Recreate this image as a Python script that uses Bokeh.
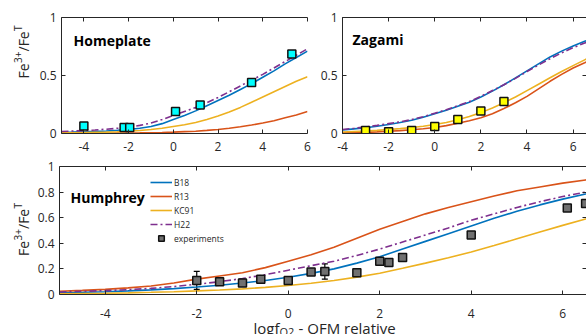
from math import pi
from bokeh.plotting import figure
from bokeh.models import (Range1d, FixedTicker, LinearAxis, Label, Legend,
                          LegendItem, Whisker, ColumnDataSource, TeeHead)
from bokeh.layouts import column, row
from bokeh.embed import file_html
from bokeh.resources import INLINE

# ---------------- data ----------------
x_tick_vals = [-4, -2, 0, 2, 4, 6]
y_ticks_top = [0, 0.5, 1]
y_tick_labels_top = ["0", "0.5", "1"]
y_ticks_bottom = [0, 0.2, 0.4, 0.6, 0.8, 1]
y_tick_labels_bottom = ["0", "0.2", "0.4", "0.6", "0.8", "1"]

# Homeplate
hp_x = [-5, -4.5, -4, -3.5, -3, -2.5, -2, -1.5, -1, -0.5, 0, 0.5, 1, 1.5, 2, 2.5,
        3, 3.5, 4, 4.5, 5, 5.5, 6]
hp_b18 = [0.01, 0.012, 0.015, 0.018, 0.022, 0.028, 0.035, 0.045, 0.06, 0.085, 0.12,
          0.155, 0.195, 0.24, 0.285, 0.33, 0.38, 0.43, 0.485, 0.54, 0.60, 0.655, 0.71]
hp_r13 = [0.0, 0.001, 0.001, 0.002, 0.002, 0.003, 0.004, 0.005, 0.007, 0.009, 0.012,
          0.016, 0.02, 0.027, 0.035, 0.045, 0.058, 0.073, 0.09, 0.11, 0.135, 0.16, 0.19]
hp_kc91 = [0.005, 0.006, 0.008, 0.01, 0.012, 0.015, 0.02, 0.026, 0.034, 0.045, 0.06,
           0.075, 0.095, 0.12, 0.15, 0.185, 0.225, 0.27, 0.315, 0.36, 0.405, 0.45, 0.49]
hp_h22 = [0.017, 0.021, 0.025, 0.03, 0.037, 0.045, 0.055, 0.07, 0.09, 0.12, 0.155,
          0.19, 0.225, 0.265, 0.31, 0.36, 0.41, 0.46, 0.51, 0.565, 0.62, 0.675, 0.73]
hp_exp_x = [-4.0, -2.2, -1.95, 0.1, 1.2, 3.5, 5.3]
hp_exp_y = [0.065, 0.052, 0.052, 0.19, 0.245, 0.44, 0.685]

# Zagami
zg_x = [-4, -3.5, -3, -2.5, -2, -1.5, -1, -0.5, 0, 0.5, 1, 1.5, 2, 2.5, 3, 3.5,
        4, 4.5, 5, 5.5, 6, 6.5, 6.6]
zg_b18 = [0.03, 0.04, 0.05, 0.063, 0.078, 0.095, 0.115, 0.14, 0.17, 0.2, 0.235, 0.27,
          0.315, 0.365, 0.42, 0.48, 0.54, 0.60, 0.66, 0.71, 0.755, 0.795, 0.80]
zg_r13 = [0.005, 0.007, 0.01, 0.014, 0.019, 0.025, 0.032, 0.041, 0.052, 0.068, 0.088,
          0.11, 0.135, 0.17, 0.215, 0.265, 0.32, 0.385, 0.45, 0.51, 0.565, 0.61, 0.62]
zg_kc91 = [0.013, 0.017, 0.021, 0.027, 0.034, 0.042, 0.052, 0.063, 0.077, 0.095, 0.118,
           0.146, 0.18, 0.22, 0.265, 0.315, 0.37, 0.425, 0.48, 0.535, 0.585, 0.635, 0.645]
zg_h22 = [0.035, 0.045, 0.056, 0.07, 0.085, 0.1, 0.12, 0.145, 0.175, 0.205, 0.24,
          0.275, 0.32, 0.37, 0.42, 0.475, 0.535, 0.59, 0.645, 0.695, 0.74, 0.78, 0.787]
zg_exp_x = [-3, -2, -1, 0, 1, 2, 3]
zg_exp_y = [0.025, 0.015, 0.025, 0.06, 0.12, 0.195, 0.275]

# Humphrey
hu_x = [-5, -4.5, -4, -3.5, -3, -2.5, -2, -1.5, -1, -0.5, 0, 0.5, 1, 1.5, 2, 2.5,
        3, 3.5, 4, 4.5, 5, 5.5, 6, 6.5, 6.6]
hu_b18 = [0.015, 0.018, 0.022, 0.028, 0.036, 0.046, 0.058, 0.072, 0.09, 0.11, 0.135,
          0.165, 0.2, 0.245, 0.295, 0.355, 0.415, 0.475, 0.535, 0.595, 0.65, 0.70,
          0.745, 0.785, 0.79]
hu_r13 = [0.025, 0.032, 0.04, 0.052, 0.067, 0.09, 0.12, 0.145, 0.17, 0.21, 0.26,
          0.31, 0.37, 0.44, 0.51, 0.57, 0.63, 0.68, 0.725, 0.77, 0.81, 0.84, 0.87,
          0.895, 0.90]
hu_kc91 = [0.006, 0.008, 0.01, 0.013, 0.017, 0.022, 0.028, 0.035, 0.044, 0.056, 0.07,
           0.088, 0.11, 0.136, 0.166, 0.205, 0.245, 0.287, 0.332, 0.382, 0.435, 0.488,
           0.54, 0.59, 0.60]
hu_h22 = [0.02, 0.025, 0.03, 0.038, 0.048, 0.062, 0.08, 0.10, 0.125, 0.155, 0.19,
          0.225, 0.26, 0.305, 0.355, 0.41, 0.465, 0.52, 0.58, 0.63, 0.68, 0.725,
          0.765, 0.80, 0.805]
hu_exp_x = [-2, -1.5, -1, -0.6, 0, 0.5, 0.8, 1.5, 2, 2.2, 2.5, 4, 6.1, 6.5]
hu_exp_y = [0.11, 0.10, 0.09, 0.12, 0.11, 0.175, 0.18, 0.17, 0.26, 0.25, 0.29, 0.465,
            0.675, 0.71]
hu_err_x = [-2, 0.8]
hu_err_y = [0.11, 0.18]
hu_err = [0.07, 0.06]

# ---------------- style ----------------
C_B18, C_R13, C_KC91, C_H22 = "#0072BD", "#D95319", "#EDB120", "#7E2F8E"
AX = "#262626"
FONT = "Open Sans"
LW = 1.6
DASH = "7 3 2 3"


def style_axis(ax, standoff=5):
    ax.axis_line_color = AX
    ax.axis_line_width = 1
    ax.major_tick_in = 4
    ax.major_tick_out = 0
    ax.major_tick_line_color = AX
    ax.minor_tick_line_color = None
    ax.major_label_text_font = FONT
    ax.major_label_text_color = AX
    ax.major_label_text_font_size = "12px"
    ax.major_label_standoff = standoff


def tick_only_axis(ticks, line=True):
    # ticks drawn as minor ticks only, so the axis has no labels at all
    ax = LinearAxis(ticker=FixedTicker(ticks=[], minor_ticks=ticks))
    ax.axis_line_color = AX if line else None
    ax.axis_line_width = 1
    ax.major_tick_line_color = None
    ax.minor_tick_in = 4
    ax.minor_tick_out = 0
    ax.minor_tick_line_color = AX
    ax.major_label_standoff = 0
    return ax


def make_fig(width, height, xr, mbl, mbr, mbt, mbb, yticks, ylabels, xstand,
             xlabels=True):
    p = figure(width=width, height=height, x_range=Range1d(*xr), y_range=Range1d(0, 1),
               output_backend="svg", toolbar_location=None,
               x_axis_type=None, y_axis_type=None,
               min_border_left=mbl, min_border_right=mbr,
               min_border_top=mbt, min_border_bottom=mbb)
    p.outline_line_color = None
    p.background_fill_color = "white"
    if xlabels:
        xb = LinearAxis(ticker=FixedTicker(ticks=x_tick_vals),
                        major_label_overrides={t: str(t) for t in x_tick_vals})
        style_axis(xb, xstand)
    else:
        xb = tick_only_axis(x_tick_vals)
    p.add_layout(xb, "below")
    p.add_layout(tick_only_axis(x_tick_vals), "above")
    yl = LinearAxis(ticker=FixedTicker(ticks=yticks),
                    major_label_overrides=dict(zip(yticks, ylabels)))
    style_axis(yl, 5)
    p.add_layout(yl, "left")
    return p


def strip(width, height, x_range=None, mbl=0, mbt=0):
    s = figure(width=width, height=height,
               x_range=x_range if x_range is not None else Range1d(0, width),
               y_range=Range1d(0, 1), output_backend="svg", toolbar_location=None,
               x_axis_type=None, y_axis_type=None,
               min_border_left=mbl, min_border_right=0,
               min_border_top=mbt, min_border_bottom=0)
    s.outline_line_color = None
    return s


def add_text(p, dx, dy, text, size, bold=False, angle=0.0, color=AX):
    # dx, dy: pixels from the frame's bottom-left corner
    p.add_layout(Label(x=dx, y=dy, x_units="screen", y_units="screen",
                       text=text, text_font=FONT, text_font_size=f"{size}px",
                       text_font_style="bold" if bold else "normal",
                       text_color=color, text_align="left",
                       text_baseline="alphabetic", angle=angle))


def add_ylabel(p, dx, dy):
    add_text(p, dx, dy, "Fe", 14, angle=pi / 2)
    add_text(p, dx - 6, dy + 15.5, "3+", 10, angle=pi / 2)
    add_text(p, dx, dy + 27, "/Fe", 14, angle=pi / 2)
    add_text(p, dx - 6, dy + 47.5, "T", 10, angle=pi / 2)


def curves(p, x, b18, r13, kc91, h22):
    r1 = p.line(x, b18, line_color=C_B18, line_width=LW)
    r2 = p.line(x, r13, line_color=C_R13, line_width=LW)
    r3 = p.line(x, kc91, line_color=C_KC91, line_width=LW)
    r4 = p.line(x, h22, line_color=C_H22, line_width=LW, line_dash=DASH)
    return r1, r2, r3, r4


def squares(p, x, y, fill):
    return p.scatter(x, y, marker="square", size=8, fill_color=fill,
                     line_color="#111111", line_width=1.5)


# ---------------- y-label strips ----------------
s1 = strip(34, 158)
add_ylabel(s1, 23, 55)
s3 = strip(34, 176)
add_ylabel(s3, 23, 78.5)

# ---------------- Homeplate ----------------
p1 = make_fig(281, 158, (-5, 6), 27, 8, 17, 25, y_ticks_top, y_tick_labels_top, 8)
curves(p1, hp_x, hp_b18, hp_r13, hp_kc91, hp_h22)
squares(p1, hp_exp_x, hp_exp_y, "#00FFFF")
add_text(p1, 12, 93, "Homeplate", 14, bold=True, color="black")

# ---------------- Zagami ----------------
p2 = make_fig(271, 158, (-4, 6.58), 27, 0, 17, 25, y_ticks_top, y_tick_labels_top, 8)
p2.add_layout(tick_only_axis(y_ticks_top, line=False), "right")
curves(p2, zg_x, zg_b18, zg_r13, zg_kc91, zg_h22)
squares(p2, zg_exp_x, zg_exp_y, "#FFFF00")
add_text(p2, 10, 94.5, "Zagami", 14, bold=True, color="black")

# ---------------- Humphrey ----------------
p3 = make_fig(552, 143, (-5, 6.52), 25, 0, 8, 7, y_ticks_bottom, y_tick_labels_bottom,
              0, xlabels=False)
p3.add_layout(tick_only_axis(y_ticks_bottom, line=False), "right")
r1, r2, r3, r4 = curves(p3, hu_x, hu_b18, hu_r13, hu_kc91, hu_h22)
err_src = ColumnDataSource(dict(x=hu_err_x,
                                lower=[v - e for v, e in zip(hu_err_y, hu_err)],
                                upper=[v + e for v, e in zip(hu_err_y, hu_err)]))
p3.add_layout(Whisker(source=err_src, base="x", lower="lower", upper="upper",
                      line_color="black", line_width=1.2,
                      upper_head=TeeHead(size=6, line_color="black", line_width=1.2),
                      lower_head=TeeHead(size=6, line_color="black", line_width=1.2)))
r5 = squares(p3, hu_exp_x, hu_exp_y, "#707070")
add_text(p3, 11, 97.5, "Humphrey", 14, bold=True, color="black")

legend = Legend(items=[LegendItem(label="B18", renderers=[r1]),
                       LegendItem(label="R13", renderers=[r2]),
                       LegendItem(label="KC91", renderers=[r3]),
                       LegendItem(label="H22", renderers=[r4]),
                       LegendItem(label="experiments", renderers=[r5])],
                location=(91, 49), orientation="vertical",
                glyph_width=22, glyph_height=14, label_height=14,
                label_standoff=2, spacing=0, padding=0, margin=0,
                border_line_color=None, background_fill_alpha=0,
                label_text_font=FONT,
                label_text_font_size="8.5px", label_text_color=AX)
p3.add_layout(legend)

# x tick labels + x-axis title strip under Humphrey (shares its x range)
xs = strip(552, 33, x_range=p3.x_range, mbl=25, mbt=12)
xl = LinearAxis(ticker=FixedTicker(ticks=x_tick_vals),
                major_label_overrides={t: str(t) for t in x_tick_vals})
style_axis(xl, -4)
xl.axis_line_color = None
xl.major_tick_line_color = None
xs.add_layout(xl, "above")
add_text(xs, 194, 7, "logf", 15)
add_text(xs, 220, 3, "O2", 11)
add_text(xs, 239, 7, "- QFM relative", 15)

layout = column(row(s1, p1, p2, spacing=0),
                row(s3, column(p3, xs, spacing=0), spacing=0),
                spacing=0)
open("out.html", "w").write(file_html(layout, INLINE))
